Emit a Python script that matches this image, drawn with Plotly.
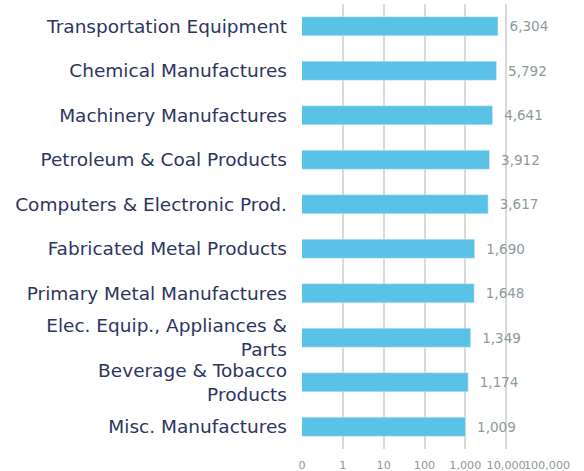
import plotly.graph_objects as go

categories = [
    "Transportation Equipment",
    "Chemical Manufactures",
    "Machinery Manufactures",
    "Petroleum & Coal Products",
    "Computers & Electronic Prod.",
    "Fabricated Metal Products",
    "Primary Metal Manufactures",
    "Elec. Equip., Appliances &<br>Parts",
    "Beverage & Tobacco<br>Products",
    "Misc. Manufactures",
]
values = [6304, 5792, 4641, 3912, 3617, 1690, 1648, 1349, 1174, 1009]
tick_vals = [0.1, 1, 10, 100, 1000, 10000, 100000]
tick_text = ["0", "1", "10", "100", "1,000", "10,000", "100,000"]

FONT = "DejaVu Sans"

fig = go.Figure(go.Bar(
    y=categories,
    x=values,
    orientation="h",
    marker=dict(color="#5bc2e7"),
    width=0.43,
    text=["  " + f"{v:,}" for v in values],
    textposition="outside",
    textfont=dict(color="#8c9a9c", size=13.5, family=FONT),
    cliponaxis=False,
    hoverinfo="skip",
))

fig.update_layout(
    width=584, height=471,
    margin=dict(l=302, r=37, t=4, b=22),
    plot_bgcolor="white", paper_bgcolor="white",
    font=dict(family=FONT, color="#2d3561"),
    showlegend=False,
)
fig.update_xaxes(
    type="log", range=[-1, 5], tickvals=tick_vals, ticktext=tick_text,
    showgrid=True, gridcolor="#d9d9d9", gridwidth=1.5,
    zeroline=False, showline=False, tickangle=0, automargin=False,
    tickfont=dict(size=11.2, color="#8c9a9c", family=FONT), ticklabelstandoff=8,
)
fig.update_yaxes(
    autorange="reversed", showgrid=False, showline=False, automargin=False,
    tickfont=dict(size=18.5, color="#2d3561", family=FONT), ticks="", ticklabelstandoff=14,
)

fig.write_html("out.html", config={"displayModeBar": False},
               post_script="document.body.style.margin='0px';")
